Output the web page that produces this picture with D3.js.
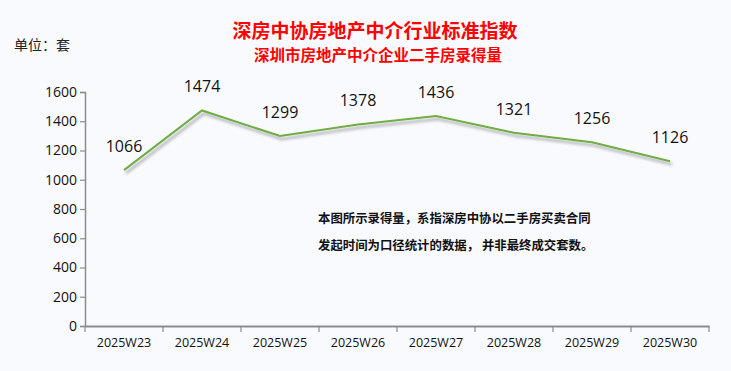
<!DOCTYPE html>
<html><head><meta charset="utf-8">
<script src="https://cdn.jsdelivr.net/npm/d3@7"></script>
<style>body{margin:0;background:#f9fafd;} svg{display:block;}</style>
</head><body>
<svg id="c" width="731" height="371"></svg>
<script>
const categories = ["2025W23","2025W24","2025W25","2025W26","2025W27","2025W28","2025W29","2025W30"];
const values = [1066,1474,1299,1378,1436,1321,1256,1126];
const yTicks = [0,200,400,600,800,1000,1200,1400,1600];
const title = "深房中协房地产中介行业标准指数";
const subtitle = "深圳市房地产中介企业二手房录得量";
const unitLabel = "单位：套";
const noteLines = ["本图所示录得量，系指深房中协以二手房买卖合同","发起时间为口径统计的数据， 并非最终成交套数。"];

const svg = d3.select("#c");
svg.append("rect").attr("width",731).attr("height",371).attr("fill","#f9fafd");
const font = "'Noto Sans CJK SC','Noto Sans',sans-serif";

const x = d3.scaleBand().domain(categories).range([85,709]);
const y = d3.scaleLinear().domain([0,1600]).range([326,92]);

// titles
svg.append("text").attr("x",375).attr("y",38).attr("text-anchor","middle")
  .attr("font-family",font).attr("font-weight","bold").attr("font-size",19).attr("fill","#ff0000").text(title);
svg.append("text").attr("x",378).attr("y",61).attr("text-anchor","middle")
  .attr("font-family",font).attr("font-weight","bold").attr("font-size",15.5).attr("fill","#ff0000").text(subtitle);
svg.append("text").attr("x",14).attr("y",50)
  .attr("font-family",font).attr("font-size",14).attr("fill","#222").text(unitLabel);

// y axis
const ya = svg.append("g").attr("transform","translate(85,0)")
  .call(d3.axisLeft(y).tickValues(yTicks).tickFormat(d3.format("d")).tickSize(5).tickPadding(3));
ya.select(".domain").attr("stroke","#8c8c8c").attr("stroke-width",1.5);
ya.selectAll(".tick line").attr("stroke","#8c8c8c").attr("stroke-width",1.2);
ya.selectAll("text").attr("font-family","'Open Sans',sans-serif").attr("font-size",14).attr("fill","#111");

// x axis
const xa = svg.append("g").attr("transform","translate(0,326)")
  .call(d3.axisBottom(x).tickSize(0).tickPadding(10));
xa.select(".domain").attr("stroke","#8c8c8c").attr("stroke-width",2);
xa.selectAll("text").attr("font-family","'Open Sans',sans-serif").attr("font-size",12.5).attr("fill","#111").attr("dy","0.9em");
const bounds = categories.map(c=>x(c)).concat([x.range()[1]]);
svg.append("g").selectAll("line").data(bounds).join("line")
  .attr("x1",d=>d).attr("x2",d=>d).attr("y1",326).attr("y2",332)
  .attr("stroke","#8c8c8c").attr("stroke-width",1.2);

// line with shadow
const defs = svg.append("defs");
const f = defs.append("filter").attr("id","sh").attr("x","-10%").attr("y","-10%").attr("width","120%").attr("height","130%");
f.append("feDropShadow").attr("dx",2).attr("dy",3).attr("stdDeviation",1.5).attr("flood-color","#000").attr("flood-opacity",0.35);

const cx = c => x(c) + x.bandwidth()/2;
const line = d3.line().x((d,i)=>cx(categories[i])).y(d=>y(d));
svg.append("path").datum(values).attr("d",line).attr("fill","none")
  .attr("stroke","#70ad47").attr("stroke-width",2).attr("filter","url(#sh)");

svg.append("g").selectAll("text").data(values).join("text")
  .attr("x",(d,i)=>cx(categories[i])).attr("y",d=>y(d)-18).attr("text-anchor","middle")
  .attr("font-family","'Open Sans',sans-serif").attr("font-size",16).attr("fill","#111").text(d=>d);

// note
svg.append("g").selectAll("text").data(noteLines).join("text")
  .attr("x",318).attr("y",(d,i)=>223+i*27)
  .attr("font-family",font).attr("font-weight","bold").attr("font-size",12.4).attr("fill","#111").text(d=>d);
</script>
</body></html>
